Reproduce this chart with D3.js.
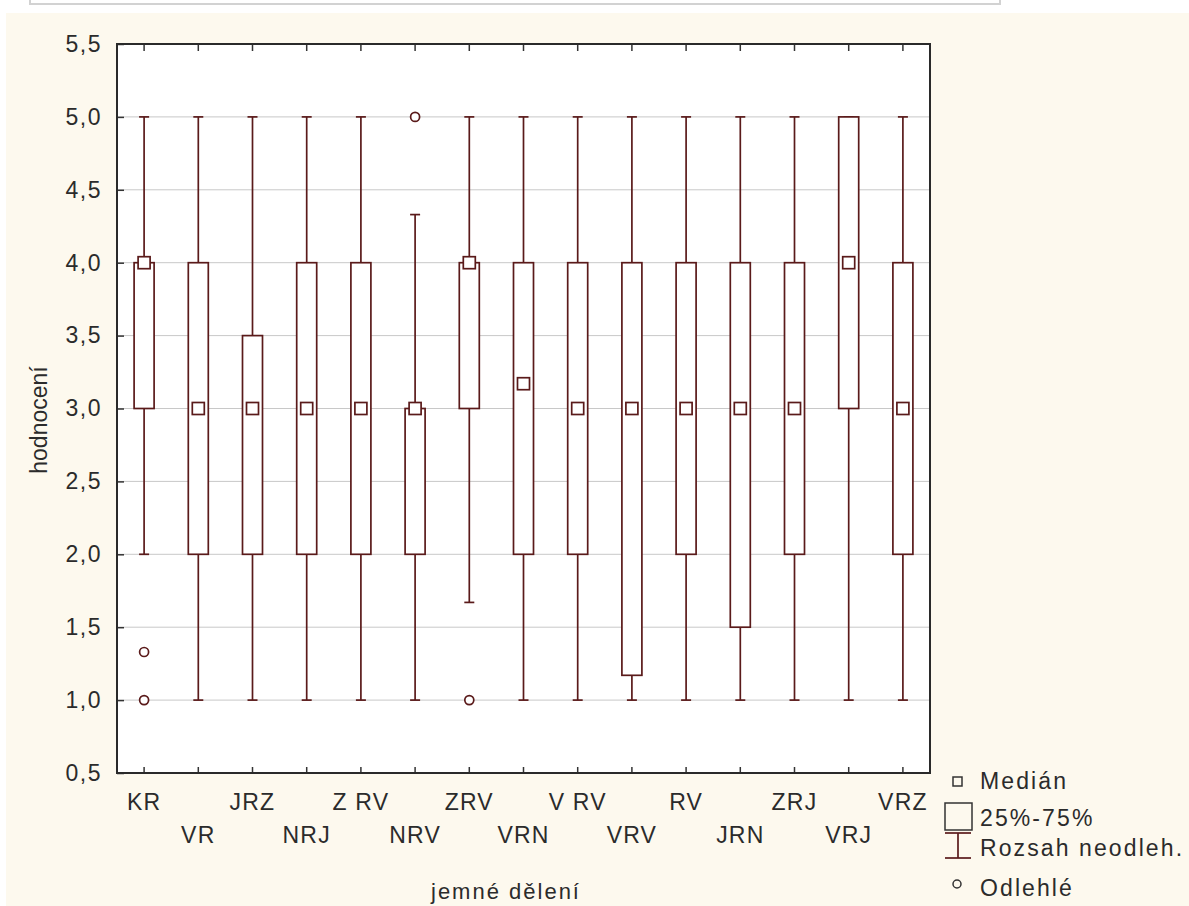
<!DOCTYPE html>
<html>
<head>
<meta charset="utf-8">
<script src="https://cdn.jsdelivr.net/npm/d3@7"></script>
<style>
  body { margin: 0; background: #fff; }
  text { font-family: "Liberation Sans", Arial, sans-serif; fill: #2b2b2b; }
</style>
</head>
<body>
<div id="chart"></div>
<script>
// categories (x axis) and box plot statistics
const categories = ['KR', 'VR', 'JRZ', 'NRJ', 'Z RV', 'NRV', 'ZRV', 'VRN', 'V RV', 'VRV', 'RV', 'JRN', 'ZRJ', 'VRJ', 'VRZ'];
const medians    = [4, 3, 3, 3, 3, 3, 4, 3.17, 3, 3, 3, 3, 3, 4, 3];
const q1         = [3, 2, 2, 2, 2, 2, 3, 2, 2, 1.17, 2, 1.5, 2, 3, 2];
const q3         = [4, 4, 3.5, 4, 4, 3, 4, 4, 4, 4, 4, 4, 4, 5, 4];
const whiskerLow = [2, 1, 1, 1, 1, 1, 1.67, 1, 1, 1, 1, 1, 1, 1, 1];
const whiskerHigh = [5, 5, 5, 5, 5, 4.33, 5, 5, 5, 5, 5, 5, 5, 5, 5];
const outliers   = [[1.33, 1], [], [], [], [], [5], [1], [], [], [], [], [], [], [], []];
const yTicks = [0.5, 1, 1.5, 2, 2.5, 3, 3.5, 4, 4.5, 5, 5.5];
const legendItems = ['Medián', '25%-75%', 'Rozsah neodleh.', 'Odlehlé'];

const width = 1189, height = 906;
const plot = { left: 117, top: 44, right: 930, bottom: 773 };
const lineColor = '#5a1a1a';

const svg = d3.select('#chart').append('svg')
  .attr('width', width)
  .attr('height', height);

// page background: white strip with a grey box on top, cream panel below
svg.append('rect')
  .attr('x', 6).attr('y', 13)
  .attr('width', width - 6).attr('height', height - 13)
  .attr('fill', '#fdf9ee');
svg.append('rect')
  .attr('x', 30).attr('y', -10)
  .attr('width', 970).attr('height', 14)
  .attr('fill', '#fff')
  .attr('stroke', '#d2d2d2')
  .attr('stroke-width', 2);

const x = d3.scaleBand()
  .domain(categories)
  .range([plot.left, plot.right]);

const y = d3.scaleLinear()
  .domain([0.5, 5.5])
  .range([plot.bottom, plot.top]);

// plot area
svg.append('rect')
  .attr('x', plot.left).attr('y', plot.top)
  .attr('width', plot.right - plot.left)
  .attr('height', plot.bottom - plot.top)
  .attr('fill', '#fff');

// gridlines
svg.append('g')
  .selectAll('line')
  .data(yTicks.filter(t => t > 0.5 && t < 5.5))
  .join('line')
  .attr('x1', plot.left).attr('x2', plot.right)
  .attr('y1', d => y(d)).attr('y2', d => y(d))
  .attr('stroke', '#c8c8c8')
  .attr('stroke-width', 1);

// y axis labels and ticks
const fmt = d => d3.format('.1f')(d).replace('.', ',');
const yAxis = svg.append('g')
  .attr('transform', `translate(${plot.left},0)`)
  .call(d3.axisLeft(y).tickValues(yTicks).tickSize(-7).tickPadding(15).tickFormat(fmt));
yAxis.select('.domain').remove();
yAxis.selectAll('line').attr('stroke', '#333').attr('stroke-width', 1.5);
yAxis.selectAll('text')
  .attr('font-size', '23px')
  .attr('font-family', '"Liberation Sans", Arial, sans-serif')
  .attr('fill', '#2b2b2b')
  .attr('letter-spacing', '1.5px');

// x ticks top and bottom (pointing inward)
const xc = d => x(d) + x.bandwidth() / 2;
svg.append('g')
  .selectAll('line')
  .data(categories)
  .join('line')
  .attr('x1', xc).attr('x2', xc)
  .attr('y1', plot.top).attr('y2', plot.top + 7)
  .attr('stroke', '#333').attr('stroke-width', 1.5);
svg.append('g')
  .selectAll('line')
  .data(categories)
  .join('line')
  .attr('x1', xc).attr('x2', xc)
  .attr('y1', plot.bottom).attr('y2', plot.bottom - 6)
  .attr('stroke', '#333').attr('stroke-width', 1.5);

// x labels in two staggered rows
svg.append('g')
  .selectAll('text')
  .data(categories)
  .join('text')
  .attr('x', xc)
  .attr('y', (d, i) => i % 2 === 0 ? 810 : 843)
  .attr('text-anchor', 'middle')
  .attr('font-size', '23px')
  .attr('letter-spacing', '1.2px')
  .text(d => d);

// axis titles
svg.append('text')
  .attr('transform', 'translate(47,420) rotate(-90)')
  .attr('text-anchor', 'middle')
  .attr('font-size', '23px')
  .text('hodnocení');
svg.append('text')
  .attr('x', 506).attr('y', 899)
  .attr('text-anchor', 'middle')
  .attr('font-size', '22px')
  .attr('letter-spacing', '2px')
  .text('jemné dělení');

// boxes
const boxW = 20, capW = 10, medS = 12;
const boxes = svg.append('g')
  .selectAll('g')
  .data(categories)
  .join('g')
  .attr('fill', 'none')
  .attr('stroke', lineColor)
  .attr('stroke-width', 1.7);

boxes.append('line')
  .attr('x1', xc).attr('x2', xc)
  .attr('y1', (d, i) => y(whiskerLow[i]))
  .attr('y2', (d, i) => y(whiskerHigh[i]));
boxes.append('line')
  .attr('x1', d => xc(d) - capW / 2).attr('x2', d => xc(d) + capW / 2)
  .attr('y1', (d, i) => y(whiskerLow[i])).attr('y2', (d, i) => y(whiskerLow[i]));
boxes.append('line')
  .attr('x1', d => xc(d) - capW / 2).attr('x2', d => xc(d) + capW / 2)
  .attr('y1', (d, i) => y(whiskerHigh[i])).attr('y2', (d, i) => y(whiskerHigh[i]));
boxes.append('rect')
  .attr('x', d => xc(d) - boxW / 2)
  .attr('y', (d, i) => y(q3[i]))
  .attr('width', boxW)
  .attr('height', (d, i) => y(q1[i]) - y(q3[i]))
  .attr('fill', '#fff');
boxes.append('rect')
  .attr('x', d => xc(d) - medS / 2)
  .attr('y', (d, i) => y(medians[i]) - medS / 2)
  .attr('width', medS).attr('height', medS)
  .attr('fill', '#fff');

// outliers
boxes.each(function (d, i) {
  d3.select(this).selectAll('circle')
    .data(outliers[i])
    .join('circle')
    .attr('cx', xc(d))
    .attr('cy', v => y(v))
    .attr('r', 4.5)
    .attr('fill', '#fff');
});

// legend
const lg = svg.append('g');
const lx = 958;
lg.append('rect')
  .attr('x', lx - 5).attr('y', 777).attr('width', 9).attr('height', 9)
  .attr('fill', 'none').attr('stroke', '#333').attr('stroke-width', 1.5);
lg.append('rect')
  .attr('x', lx - 13).attr('y', 803).attr('width', 27).attr('height', 27)
  .attr('fill', 'none').attr('stroke', '#333').attr('stroke-width', 1.5);
lg.append('line')
  .attr('x1', lx).attr('x2', lx).attr('y1', 833).attr('y2', 858)
  .attr('stroke', lineColor).attr('stroke-width', 1.7);
[833, 858].forEach(v => {
  lg.append('line')
    .attr('x1', lx - 13).attr('x2', lx + 13).attr('y1', v).attr('y2', v)
    .attr('stroke', lineColor).attr('stroke-width', 1.7);
});
lg.append('circle')
  .attr('cx', lx - 1).attr('cy', 884).attr('r', 4)
  .attr('fill', 'none').attr('stroke', '#333').attr('stroke-width', 1.5);

lg.selectAll('text')
  .data(legendItems)
  .join('text')
  .attr('x', 980)
  .attr('y', (d, i) => [789, 826, 856, 896][i])
  .attr('font-size', '23px')
  .attr('letter-spacing', '2.1px')
  .text(d => d);

// plot frame
svg.append('rect')
  .attr('x', plot.left).attr('y', plot.top)
  .attr('width', plot.right - plot.left)
  .attr('height', plot.bottom - plot.top)
  .attr('fill', 'none')
  .attr('stroke', '#2a2a2a')
  .attr('stroke-width', 2);
</script>
</body>
</html>
